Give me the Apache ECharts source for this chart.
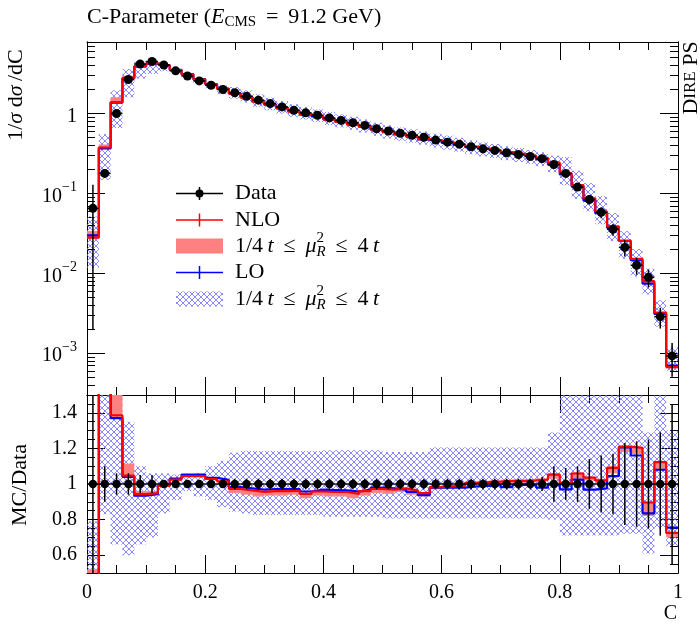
<!DOCTYPE html>
<html><head><meta charset="utf-8">
<script src="https://cdn.jsdelivr.net/npm/echarts@6/dist/echarts.min.js"></script>
<style>html,body{margin:0;padding:0;background:#fff}#c{width:700px;height:632px}</style>
</head><body><div id="c"></div>
<script>
// ---------------- data ----------------
const binEdges = [0,0.02,0.04,0.06,0.08,0.10,0.12,0.14,0.16,0.18,0.20,0.22,0.24,0.26,0.28,0.30,0.32,0.34,0.36,0.38,0.40,0.42,0.44,0.46,0.48,0.50,0.52,0.54,0.56,0.58,0.60,0.62,0.64,0.66,0.68,0.70,0.72,0.74,0.76,0.78,0.80,0.82,0.84,0.86,0.88,0.90,0.92,0.94,0.96,0.98,1.00];
const dataVals = [0.065,0.178,1.00,2.66,4.15,4.47,4.05,3.42,2.95,2.56,2.26,2.00,1.82,1.64,1.47,1.33,1.21,1.10,1.02,0.95,0.88,0.82,0.765,0.71,0.645,0.605,0.567,0.535,0.505,0.465,0.438,0.413,0.383,0.361,0.345,0.323,0.307,0.290,0.272,0.230,0.178,0.120,0.084,0.058,0.0355,0.0211,0.0126,0.0089,0.00287,0.000925];
const dataErr = [0.97,0.10,0.06,0.06,0.05,0.05,0.02,0.02,0.02,0.02,0.02,0.02,0.03,0.03,0.03,0.03,0.03,0.03,0.03,0.03,0.03,0.03,0.03,0.03,0.03,0.03,0.03,0.03,0.03,0.03,0.03,0.03,0.03,0.03,0.03,0.03,0.03,0.03,0.04,0.10,0.09,0.10,0.14,0.16,0.17,0.23,0.24,0.25,0.29,0.45];
const nloRatio = [0.43,2.11,1.385,1.047,0.943,0.949,0.99,1.025,1.044,1.044,1.028,1.015,0.972,0.964,0.956,0.96,0.96,0.962,0.945,0.958,0.955,0.955,0.945,0.96,0.972,0.968,0.975,0.964,0.949,0.983,0.987,0.99,1.006,1.01,1.013,1.017,1.017,1.02,1.025,1.053,1.006,1.059,1.036,1.02,1.091,1.21,1.203,0.896,1.123,0.725];
const loRatio = [0.46,2.05,1.37,1.04,0.934,0.943,0.99,1.03,1.053,1.053,1.034,1.023,0.983,0.975,0.968,0.972,0.972,0.972,0.958,0.968,0.966,0.964,0.957,0.968,0.98,0.975,0.968,0.956,0.937,0.979,0.98,0.98,0.987,0.99,0.995,0.983,0.995,0.995,0.98,0.996,0.97,1.025,0.968,0.975,1.044,1.205,1.16,0.835,1.08,0.755];
const nloBandLo = [0.42,2.05,1.38,1.04,0.93,0.94,0.985,1.02,1.04,1.04,1.025,1.01,0.95,0.94,0.93,0.935,0.935,0.94,0.92,0.935,0.93,0.93,0.92,0.935,0.95,0.945,0.955,0.94,0.93,0.97,0.975,0.98,0.995,1.0,1.0,1.005,1.005,1.01,1.015,1.03,0.99,1.03,1.02,1.0,1.06,1.18,1.17,0.82,1.08,0.70];
const nloBandHi = [0.52,2.30,1.60,1.115,0.96,0.96,1.0,1.03,1.05,1.05,1.035,1.02,0.977,0.969,0.961,0.965,0.965,0.967,0.95,0.963,0.96,0.96,0.95,0.965,0.977,0.973,0.98,0.969,0.954,0.99,0.995,1.0,1.012,1.016,1.02,1.024,1.024,1.027,1.032,1.06,1.01,1.065,1.04,1.03,1.10,1.215,1.21,0.90,1.13,0.73];
const loBandLo = [0.18,0.83,0.66,0.60,0.66,0.70,0.835,0.91,0.96,0.93,0.91,0.87,0.845,0.835,0.826,0.826,0.826,0.826,0.826,0.826,0.816,0.816,0.816,0.816,0.816,0.806,0.806,0.806,0.806,0.806,0.806,0.806,0.806,0.806,0.806,0.806,0.806,0.806,0.806,0.80,0.71,0.71,0.71,0.71,0.71,0.72,0.72,0.61,0.75,0.65];
const loBandHi = [0.79,3.10,1.95,1.35,1.10,1.06,1.06,1.053,1.04,1.06,1.10,1.13,1.176,1.186,1.186,1.186,1.186,1.186,1.186,1.186,1.19,1.19,1.19,1.19,1.19,1.18,1.18,1.18,1.18,1.205,1.205,1.205,1.205,1.205,1.205,1.205,1.205,1.205,1.205,1.29,1.60,1.60,1.60,1.60,1.60,1.60,1.60,1.29,1.60,1.30];
const xTicks = [0,0.2,0.4,0.6,0.8,1];
const logMajor = [-3,-2,-1,0];
const ratioMajor = [0.6,0.8,1.0,1.2,1.4];

// ---------------- helpers ----------------
const FONT = '"Liberation Serif", "DejaVu Serif", serif';
const RED = '#ff0000', BLUE = '#0000ff', PINK = '#ff8080';
const lg = v => Math.log10(v);
const LMIN = Math.log10(3e-4), LMAX = Math.log10(7.85);

const hatch = document.createElement('canvas');
hatch.width = 6; hatch.height = 6;
(function(){const c=hatch.getContext('2d');c.strokeStyle='rgba(100,100,255,0.85)';c.lineWidth=0.9;
c.beginPath();c.moveTo(0,0);c.lineTo(6,6);c.moveTo(6,0);c.lineTo(0,6);c.stroke();})();
const hatchFill = {image: hatch, repeat: 'repeat'};

const minorLog = [];
for (let n=-4;n<=0;n++) for (let k=2;k<=9;k++){const v=Math.log10(k)+n; if(v>LMIN&&v<LMAX) minorLog.push(v);}
const minorRatio = [];
for (let k=10;k<=30;k++) minorRatio.push(k*0.05);

function bandSeries(gi, lo, hi, fill, z) {
  return {type:'custom', xAxisIndex: gi*2, yAxisIndex: gi*4, z, silent:true, clip:true,
    data: lo.map((v,i)=>[binEdges[i], binEdges[i+1], v, hi[i]]),
    encode:{x:[0,1], y:[2,3]},
    renderItem(params, api){
      const p1 = api.coord([api.value(0), api.value(3)]);
      const p2 = api.coord([api.value(1), api.value(2)]);
      const cs = params.coordSys;
      const y1 = Math.max(p1[1], cs.y), y2 = Math.min(p2[1], cs.y+cs.height);
      if (y2 <= y1) return null;
      return {type:'rect', shape:{x:p1[0], y:y1, width:p2[0]-p1[0], height:y2-y1}, style:{fill}};
    }};
}
function stepSeries(gi, vals, color, width, z) {
  const d = [];
  vals.forEach((v,i)=>{d.push([binEdges[i], v]); d.push([binEdges[i+1], v]);});
  return {type:'line', xAxisIndex: gi*2, yAxisIndex: gi*4, data:d, showSymbol:false, symbol:'none',
    lineStyle:{color, width}, z, clip:true, silent:true};
}
function dataSeries(gi, centers, lows, highs, r) {
  return {type:'custom', xAxisIndex: gi*2, yAxisIndex: gi*4, z:10, silent:true, clip:true,
    data: centers.map((v,i)=>[(binEdges[i]+binEdges[i+1])/2, v, lows[i], highs[i], binEdges[i], binEdges[i+1]]),
    encode:{x:0, y:1},
    renderItem(params, api){
      const cs = params.coordSys;
      const c = api.coord([api.value(0), api.value(1)]);
      const lo = api.coord([api.value(0), api.value(2)]);
      const hi = api.coord([api.value(0), api.value(3)]);
      const l = api.coord([api.value(4), api.value(1)]);
      const rr = api.coord([api.value(5), api.value(1)]);
      const clampY = y => Math.min(Math.max(y, cs.y), cs.y+cs.height);
      const st = {stroke:'#000', lineWidth:1.5};
      return {type:'group', children:[
        {type:'line', shape:{x1:c[0], y1:clampY(hi[1]), x2:c[0], y2:clampY(lo[1])}, style:st},
        {type:'line', shape:{x1:l[0], y1:c[1], x2:rr[0], y2:c[1]}, style:st},
        {type:'circle', shape:{cx:c[0], cy:c[1], r}, style:{fill:'#000'}}
      ]};
    }};
}

// x axes
function xAxis(gi, pos, labels) {
  return {type:'value', gridIndex:gi, position:pos, min:0, max:1, interval:0.2,
    axisLine:{show:true, onZero:false, lineStyle:{color:'#000', width:1}},
    axisTick:{show:true, inside:true, length:18, lineStyle:{color:'#000', width:1}},
    minorTick:{show:true, splitNumber:4, length:8, lineStyle:{color:'#000', width:1}},
    splitLine:{show:false}, minorSplitLine:{show:false},
    axisLabel:{show:labels, margin:10, fontFamily:FONT, fontSize:20, color:'#000',
      formatter: v => (Math.abs(v)<1e-9?'0':(Math.abs(v-1)<1e-9?'1':(+v).toFixed(1)))}};
}
function yAxis(gi, pos, min, max, ticks, len, labels, fmt, rich) {
  return {type:'value', gridIndex:gi, position:pos, min, max,
    axisLine:{show:true, onZero:false, lineStyle:{color:'#000', width:1}},
    axisTick:{show:true, inside:true, length:len, customValues:ticks, lineStyle:{color:'#000', width:1}},
    minorTick:{show:false}, splitLine:{show:false},
    axisLabel:{show:labels, customValues:ticks, margin:10, fontFamily:FONT, fontSize:20, color:'#000', formatter:fmt, rich}};
}
const logFmt = v => { const n = Math.round(v); return n===0 ? '{b|1}' : '{b|10}{s|\u2212'+(-n)+'}'; };
const logRich = {b:{fontFamily:FONT, fontSize:20, color:'#000', lineHeight:26, verticalAlign:'bottom'},
                 s:{fontFamily:FONT, fontSize:14, color:'#000', lineHeight:14, verticalAlign:'top'}};
const ratioFmt = v => (Math.abs(v-1)<1e-9 ? '1' : (+v).toFixed(1));

// ---------------- text layout helpers ----------------
const mctx = document.createElement('canvas').getContext('2d');
function fontStr(p){return (p.italic?'italic ':'')+(p.size||22)+'px '+FONT;}
function measure(p){mctx.font = fontStr(p); return mctx.measureText(p.t).width;}
function layout(pieces){
  const els=[]; let x=0;
  pieces.forEach(p=>{
    if (p.stack){
      let w=0;
      p.stack.forEach(q=>{
        els.push({type:'text', x:x, y:(q.dy||0), style:{text:q.t, font:fontStr(q), fill:'#000', align:'left', verticalAlign:'middle', textAlign:'left', textVerticalAlign:'middle'}});
        w=Math.max(w,measure(q));
      });
      x+=w;
    } else {
      els.push({type:'text', x:x, y:(p.dy||0), style:{text:p.t, font:fontStr(p), fill:'#000', align:'left', verticalAlign:'middle', textAlign:'left', textVerticalAlign:'middle'}});
      x+=measure(p);
    }
  });
  return {els, width:x};
}
function textGroup(x, y, pieces, opts){
  opts = opts||{};
  const L = layout(pieces);
  let off = 0;
  if (opts.align==='center') off = -L.width/2;
  if (opts.align==='right') off = -L.width;
  L.els.forEach(e=>{e.x += off;});
  return {type:'group', x, y, rotation: opts.rotation||0, children:L.els, z:100};
}

const muPieces = [
  {t:'1/4\u2009'}, {t:'t', italic:true}, {t:' \u2009\u2264\u2009 '}, {t:'\u03bc', italic:true},
  {stack:[{t:'2', size:15, dy:-8}, {t:'R', size:15, italic:true, dy:6}]},
  {t:' \u2009\u2264\u2009 4\u2009'}, {t:'t', italic:true}
];

const legendRows = [193.5, 220, 246, 272.5, 299];
const LX1 = 176, LX2 = 223, LXC = 199.5, TX = 235;
const graphics = [
  textGroup(87, 17, [{t:'C-Parameter ('}, {t:'E', italic:true}, {t:'CMS', size:15, dy:5}, {t:' \u2009=\u2009 91.2 GeV)'}]),
  textGroup(16, 95, [{t:'1/'}, {t:'\u03c3', italic:true}, {t:' d'}, {t:'\u03c3', italic:true}, {t:'\u2009/dC'}], {align:'center', rotation:Math.PI/2}),
  textGroup(20, 485, [{t:'MC/Data'}], {align:'center', rotation:Math.PI/2}),
  textGroup(691, 78, [{t:'D'}, {t:'IRE', size:17}, {t:' PS'}], {align:'center', rotation:Math.PI/2}),
  textGroup(677, 614, [{t:'C', size:20}], {align:'right'}),
  // legend
  {type:'line', shape:{x1:LX1,y1:legendRows[0],x2:LX2,y2:legendRows[0]}, style:{stroke:'#000', lineWidth:1.5}, z:100},
  {type:'line', shape:{x1:LXC,y1:legendRows[0]-6.5,x2:LXC,y2:legendRows[0]+6.5}, style:{stroke:'#000', lineWidth:1.5}, z:100},
  {type:'circle', shape:{cx:LXC, cy:legendRows[0], r:4}, style:{fill:'#000'}, z:100},
  textGroup(TX, legendRows[0], [{t:'Data'}]),
  {type:'line', shape:{x1:LX1,y1:legendRows[1],x2:LX2,y2:legendRows[1]}, style:{stroke:RED, lineWidth:1.5}, z:100},
  {type:'line', shape:{x1:LXC,y1:legendRows[1]-6.5,x2:LXC,y2:legendRows[1]+6.5}, style:{stroke:RED, lineWidth:1.5}, z:100},
  textGroup(TX, legendRows[1], [{t:'NLO'}]),
  {type:'rect', shape:{x:LX1, y:legendRows[2]-7.5, width:LX2-LX1, height:15}, style:{fill:PINK}, z:100},
  textGroup(TX, legendRows[2], muPieces),
  {type:'line', shape:{x1:LX1,y1:legendRows[3],x2:LX2,y2:legendRows[3]}, style:{stroke:BLUE, lineWidth:1.5}, z:100},
  {type:'line', shape:{x1:LXC,y1:legendRows[3]-6.5,x2:LXC,y2:legendRows[3]+6.5}, style:{stroke:BLUE, lineWidth:1.5}, z:100},
  textGroup(TX, legendRows[3], [{t:'LO'}]),
  {type:'rect', shape:{x:LX1, y:legendRows[4]-7.5, width:LX2-LX1, height:15}, style:{fill:hatchFill}, z:100},
  textGroup(TX, legendRows[4], muPieces)
];

// ---------------- series ----------------
const topBandLoLO = dataVals.map((d,i)=>lg(d*loBandLo[i]));
const topBandHiLO = dataVals.map((d,i)=>lg(d*loBandHi[i]));
const topBandLoNLO = dataVals.map((d,i)=>lg(d*nloBandLo[i]));
const topBandHiNLO = dataVals.map((d,i)=>lg(d*nloBandHi[i]));
const topLO = dataVals.map((d,i)=>lg(d*loRatio[i]));
const topNLO = dataVals.map((d,i)=>lg(d*nloRatio[i]));
const topData = dataVals.map(lg);
const topDataLo = dataVals.map((d,i)=>lg(d*(1-dataErr[i])));
const topDataHi = dataVals.map((d,i)=>lg(d*(1+dataErr[i])));
const ones = dataVals.map(()=>1);

const option = {
  animation:false,
  backgroundColor:'#fff',
  grid:[{left:87, top:42, width:591, height:353}, {left:87, top:395, width:591, height:178}],
  xAxis:[xAxis(0,'bottom',false), xAxis(0,'top',false), xAxis(1,'bottom',true), xAxis(1,'top',false)],
  yAxis:[
    yAxis(0,'left',LMIN,LMAX,logMajor,18,true,logFmt,logRich),
    yAxis(0,'left',LMIN,LMAX,minorLog,8,false),
    yAxis(0,'right',LMIN,LMAX,logMajor,18,false),
    yAxis(0,'right',LMIN,LMAX,minorLog,8,false),
    yAxis(1,'left',0.5,1.5,ratioMajor,18,true,ratioFmt),
    yAxis(1,'left',0.5,1.5,minorRatio,8,false),
    yAxis(1,'right',0.5,1.5,ratioMajor,18,false),
    yAxis(1,'right',0.5,1.5,minorRatio,8,false)
  ],
  series:[
    bandSeries(0, topBandLoLO, topBandHiLO, hatchFill, 1),
    bandSeries(0, topBandLoNLO, topBandHiNLO, PINK, 2),
    stepSeries(0, topLO, BLUE, 2.2, 3),
    stepSeries(0, topNLO, RED, 2.2, 4),
    dataSeries(0, topData, topDataLo, topDataHi, 4.5),
    bandSeries(1, loBandLo, loBandHi, hatchFill, 1),
    bandSeries(1, nloBandLo, nloBandHi, PINK, 2),
    stepSeries(1, loRatio, BLUE, 2.2, 3),
    stepSeries(1, nloRatio, RED, 2.2, 4),
    dataSeries(1, ones, dataErr.map(e=>1-e), dataErr.map(e=>1+e), 4.2)
  ],
  graphic: graphics
};
const chart = echarts.init(document.getElementById('c'), null, {renderer:'canvas'});
chart.setOption(option);
</script></body></html>
